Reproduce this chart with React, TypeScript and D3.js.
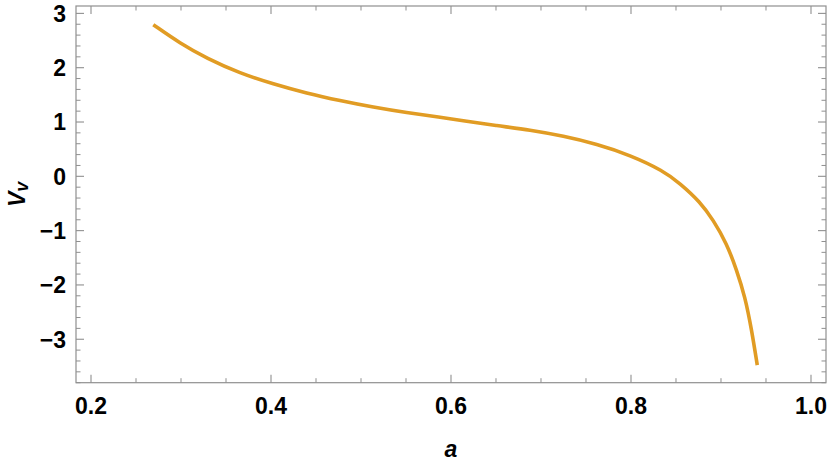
import React from "react";
import * as d3 from "d3";

const aValues = [0.2692, 0.2989, 0.3286, 0.3656, 0.4026, 0.4397, 0.4767, 0.5137, 0.5508, 0.5878, 0.6137, 0.6508, 0.6878, 0.7248, 0.7619, 0.7989, 0.8359, 0.8544, 0.8767, 0.8914, 0.9063, 0.9174, 0.9267, 0.9341, 0.9403];
const vValues = [2.792, 2.449, 2.173, 1.897, 1.7, 1.529, 1.392, 1.271, 1.171, 1.087, 1.024, 0.932, 0.853, 0.742, 0.595, 0.392, 0.103, -0.129, -0.468, -0.805, -1.234, -1.726, -2.217, -2.831, -3.476];
const xTickLabels = ["0.2", "0.4", "0.6", "0.8", "1.0"];
const yTickLabels = ["-3", "-2", "-1", "0", "1", "2", "3"];

const W = 830;
const H = 464;
const L = 76, R = 826, T = 6, B = 382.7;
const frameColor = "#8f8f8f";
const lineColor = "#E19C24";
const font = "'Liberation Sans', Arial, sans-serif";

export default function App() {
  const x = d3.scaleLinear().domain([0.18333, 1.01667]).range([L, R]);
  const y = d3.scaleLinear().domain([-3.8, 3.136]).range([B, T]);
  const pts = aValues.map((a, i) => [a, vValues[i]] as [number, number]);
  const line = d3
    .line<[number, number]>()
    .x((d) => x(d[0]))
    .y((d) => y(d[1]))
    .curve(d3.curveBasis);

  const xMajor = xTickLabels.map((t) => +t);
  const xMinor = d3.range(0.2, 1.001, 0.05).filter((v) => !xMajor.some((m) => Math.abs(m - v) < 1e-6));
  const yMajor = yTickLabels.map((t) => +t);
  const yMinor = d3.range(-3.8, 3.101, 0.2).filter((v) => !yMajor.some((m) => Math.abs(m - v) < 1e-6));

  const majLen = 8, minLen = 4.5;

  return (
    <svg width={W} height={H} style={{ position: "absolute", left: 0, top: 0, background: "#fff" }}>
      <rect x={L} y={T} width={R - L} height={B - T} fill="none" stroke={frameColor} strokeWidth={1.2} />
      {xMajor.map((v) => (
        <g key={"xM" + v}>
          <line x1={x(v)} x2={x(v)} y1={B} y2={B - majLen} stroke={frameColor} strokeWidth={1.1} />
          <line x1={x(v)} x2={x(v)} y1={T} y2={T + majLen} stroke={frameColor} strokeWidth={1.1} />
        </g>
      ))}
      {xMinor.map((v) => (
        <g key={"xm" + v}>
          <line x1={x(v)} x2={x(v)} y1={B} y2={B - minLen} stroke={frameColor} strokeWidth={1} />
          <line x1={x(v)} x2={x(v)} y1={T} y2={T + minLen} stroke={frameColor} strokeWidth={1} />
        </g>
      ))}
      {yMajor.map((v) => (
        <g key={"yM" + v}>
          <line x1={L} x2={L + majLen} y1={y(v)} y2={y(v)} stroke={frameColor} strokeWidth={1.1} />
          <line x1={R} x2={R - majLen} y1={y(v)} y2={y(v)} stroke={frameColor} strokeWidth={1.1} />
        </g>
      ))}
      {yMinor.map((v) => (
        <g key={"ym" + v}>
          <line x1={L} x2={L + minLen} y1={y(v)} y2={y(v)} stroke={frameColor} strokeWidth={1} />
          <line x1={R} x2={R - minLen} y1={y(v)} y2={y(v)} stroke={frameColor} strokeWidth={1} />
        </g>
      ))}
      {xTickLabels.map((t) => (
        <text key={"xl" + t} x={x(+t)} y={413.5} textAnchor="middle" fontFamily={font} fontWeight="bold" fontSize={23} fill="#000">
          {t}
        </text>
      ))}
      {yTickLabels.map((t) => (
        <text key={"yl" + t} x={L - 10} y={y(+t)} dy="0.36em" textAnchor="end" fontFamily={font} fontWeight="bold" fontSize={23} fill="#000">
          {t.replace("-", "\u2212")}
        </text>
      ))}
      <path d={line(pts) || ""} fill="none" stroke={lineColor} strokeWidth={3.6} strokeLinecap="butt" />
      <text x={(L + R) / 2} y={456.5} textAnchor="middle" fontFamily={font} fontWeight="bold" fontStyle="italic" fontSize={23} fill="#000">
        a
      </text>
      <text transform={`translate(25, ${(T + B) / 2}) rotate(-90)`} textAnchor="middle" fontFamily={font} fontWeight="bold" fontStyle="italic" fontSize={23} fill="#000">
        V<tspan fontSize={18} dy="3">v</tspan>
      </text>
    </svg>
  );
}
